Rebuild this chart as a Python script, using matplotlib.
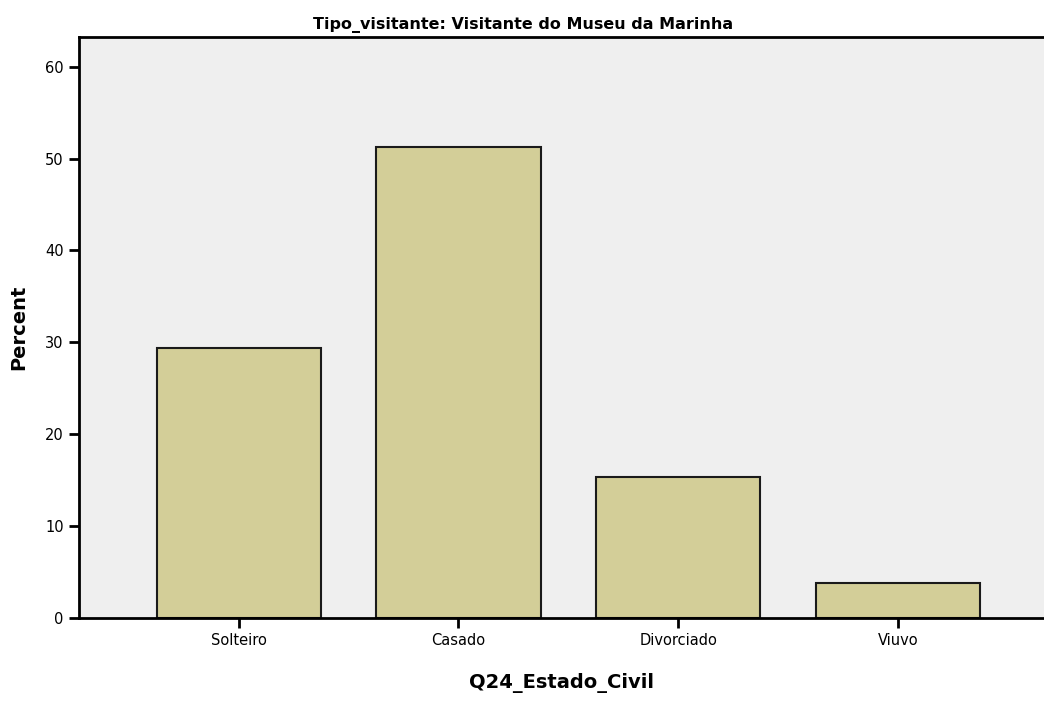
import matplotlib.pyplot as plt

categories = ["Solteiro", "Casado", "Divorciado", "Viuvo"]
percent = [29.4, 51.2, 15.3, 3.8]
title = "Tipo_visitante: Visitante do Museu da Marinha"

fig = plt.figure(figsize=(10.44, 7.02), dpi=100)
ax = fig.add_axes([0.0757, 0.1197, 0.9243, 0.8273])
ax.set_facecolor("#efefef")

x = range(len(categories))
ax.bar(x, percent, width=0.747, color="#d3ce98", edgecolor="#1a1a1a", linewidth=1.5)

ax.set_xlim(-0.727, 3.665)
ax.set_ylim(0, 63.2)
ax.set_yticks([0, 10, 20, 30, 40, 50, 60])
ax.set_xticks(list(x))
ax.set_xticklabels(categories)

for side in ["left", "bottom", "top"]:
    ax.spines[side].set_linewidth(2)
    ax.spines[side].set_color("black")
ax.spines["right"].set_visible(False)
ax.tick_params(axis="both", direction="out", length=7, width=2, labelsize=10.5, pad=4)

ax.set_ylabel("Percent", fontsize=14, fontweight="bold", labelpad=12)
ax.set_xlabel("Q24_Estado_Civil", fontsize=14, fontweight="bold", labelpad=18)
ax.set_title(title, fontsize=11.5, fontweight="bold", pad=6, x=0.46)

fig.savefig("out.png", dpi=100)
